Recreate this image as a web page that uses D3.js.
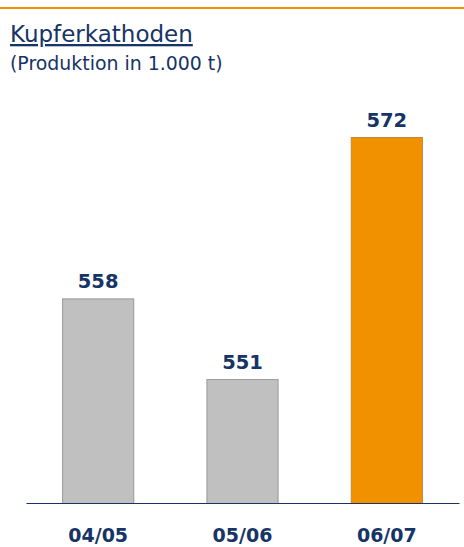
<!DOCTYPE html>
<html>
<head>
<meta charset="utf-8">
<script src="https://cdn.jsdelivr.net/npm/d3@7"></script>
<style>
  body { margin: 0; background: #fff; }
  svg { display: block; font-family: "DejaVu Sans", Verdana, sans-serif; }
</style>
</head>
<body>
<div id="area"></div>
<script>
var width = 464,
    height = 547;

var categories = ['04/05', '05/06', '06/07'];
var values = [558, 551, 572];
var barColors = ['#c0c0c0', '#c0c0c0', '#f29100'];

var navy = '#163466',
    orange = '#f29100';

var svg = d3.select('#area').append('svg')
    .attr('width', width)
    .attr('height', height);

// orange rule along the top
svg.append('line')
    .attr('x1', 0).attr('x2', width)
    .attr('y1', 8).attr('y2', 8)
    .attr('stroke', orange)
    .attr('stroke-width', 2);

svg.append('text')
    .attr('x', 10).attr('y', 42)
    .attr('fill', navy)
    .attr('font-size', '23px')
    .attr('text-decoration', 'underline')
    .text('Kupferkathoden');

svg.append('text')
    .attr('x', 10).attr('y', 70)
    .attr('fill', navy)
    .attr('font-size', '18.9px')
    .text('(Produktion in 1.000 t)');

var baseY = 503;

var x = d3.scaleBand()
    .domain(categories)
    .range([26, 459])
    .paddingInner(0.5)
    .paddingOuter(0.25);

// axis does not start at zero in the original
var y = d3.scaleLinear()
    .domain([540.25, 572])
    .range([baseY, 137]);

var bars = svg.append('g');
bars.selectAll('rect')
    .data(values)
    .enter().append('rect')
    .attr('x', function(d, i) { return x(categories[i]) + 0.5; })
    .attr('y', function(d) { return y(d) + 0.5; })
    .attr('width', x.bandwidth() - 1)
    .attr('height', function(d) { return baseY - y(d); })
    .attr('fill', function(d, i) { return barColors[i]; })
    .attr('stroke', function(d, i) { return i == 2 ? '#c08a3a' : '#999'; })
    .attr('stroke-width', 1);

bars.selectAll('text.val')
    .data(values)
    .enter().append('text')
    .attr('class', 'val')
    .attr('x', function(d, i) { return x(categories[i]) + x.bandwidth() / 2; })
    .attr('y', function(d) { return y(d) - 10; })
    .attr('text-anchor', 'middle')
    .attr('font-size', '19.5px')
    .attr('font-weight', 'bold')
    .attr('fill', navy)
    .text(function(d) { return d; });

// baseline + category labels
var xAxis = d3.axisBottom(x).tickSize(0).tickPadding(26);
var gx = svg.append('g')
    .attr('transform', 'translate(0,' + baseY + ')')
    .call(xAxis);
gx.select('.domain').attr('stroke', navy).attr('stroke-width', 1.2);
gx.selectAll('text')
    .attr('font-size', '19px')
    .attr('font-weight', 'bold')
    .attr('font-family', '"DejaVu Sans", Verdana, sans-serif')
    .attr('fill', navy);
</script>
</body>
</html>
